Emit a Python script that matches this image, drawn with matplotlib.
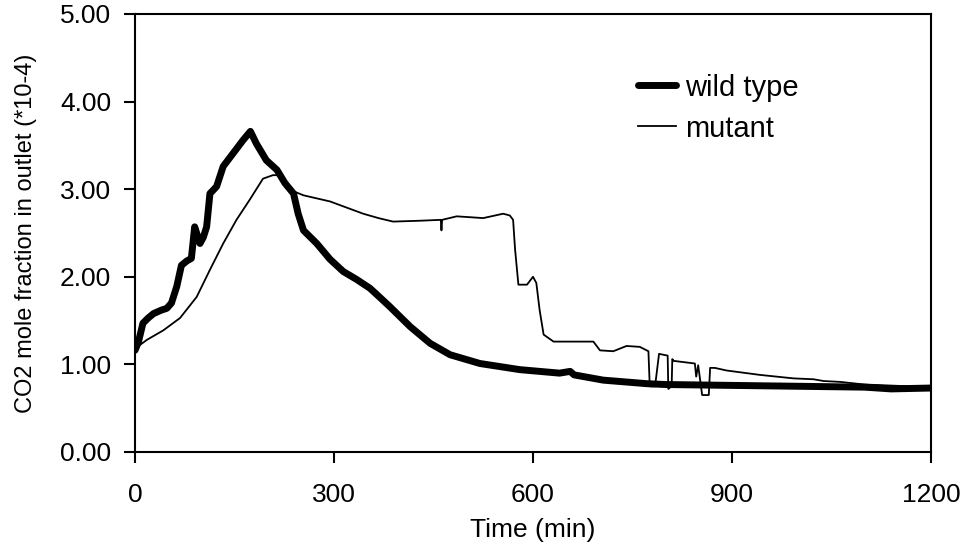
import matplotlib
matplotlib.use("Agg")
import matplotlib.pyplot as plt

plt.rcParams['font.family'] = ['Liberation Sans', 'DejaVu Sans']

# Time axis (min) and CO2 mole fraction (*10-4)
wild_t = [0, 5, 12, 20, 28, 40, 48, 55, 63, 70, 78, 85, 90, 95, 98, 103, 108,
          113, 123, 133, 148, 163, 174, 183, 198, 214, 226, 239, 246, 254,
          274, 294, 314, 334, 354, 367, 384, 415, 445, 475, 520, 580, 640,
          656, 662, 706, 771, 800, 900, 1000, 1100, 1140, 1200]
wild_y = [1.16, 1.25, 1.47, 1.53, 1.58, 1.62, 1.64, 1.70, 1.89, 2.13, 2.18,
          2.21, 2.57, 2.45, 2.38, 2.45, 2.57, 2.95, 3.03, 3.26, 3.41, 3.56,
          3.66, 3.52, 3.33, 3.22, 3.07, 2.95, 2.72, 2.53, 2.38, 2.20, 2.06,
          1.97, 1.87, 1.78, 1.66, 1.43, 1.24, 1.11, 1.01, 0.94, 0.90, 0.92,
          0.88, 0.82, 0.78, 0.77, 0.76, 0.75, 0.74, 0.72, 0.73]

mutant_t = [0, 18, 43, 68, 93, 113, 133, 153, 173, 193, 208, 218, 228, 254,
            294, 344, 367, 389, 430, 461, 462, 463, 485, 525, 555, 565, 570,
            573, 578, 591, 600, 605, 610, 616, 631, 691, 701, 721, 741, 761,
            774, 776, 784, 790, 803, 804, 809, 810, 812, 844, 846, 849, 855,
            865, 867, 874, 892, 912, 942, 993, 1023, 1038, 1063, 1100, 1200]
mutant_y = [1.18, 1.28, 1.39, 1.53, 1.77, 2.08, 2.38, 2.65, 2.88, 3.12, 3.16,
            3.16, 3.01, 2.93, 2.86, 2.72, 2.67, 2.63, 2.64, 2.65, 2.53, 2.65,
            2.69, 2.67, 2.72, 2.70, 2.65, 2.31, 1.91, 1.91, 2.00, 1.93, 1.62,
            1.34, 1.26, 1.26, 1.16, 1.15, 1.21, 1.20, 1.15, 0.75, 0.75, 1.12,
            1.10, 0.72, 0.75, 1.06, 1.04, 1.01, 0.86, 0.99, 0.65, 0.65, 0.96,
            0.96, 0.93, 0.91, 0.88, 0.84, 0.83, 0.81, 0.80, 0.77, 0.74]

x_ticks = [0, 300, 600, 900, 1200]
y_ticks = [0, 1, 2, 3, 4, 5]

fig = plt.figure(figsize=(9.69, 5.46), dpi=100)
ax = fig.add_axes([0.1393, 0.1722, 0.8215, 0.8022])

ax.plot(wild_t, wild_y, color='black', lw=5, solid_capstyle='round',
        solid_joinstyle='round', label='wild type')
ax.plot(mutant_t, mutant_y, color='black', lw=1.3, label='mutant')

ax.set_xlim(0, 1200)
ax.set_ylim(0, 5)
ax.set_xticks(x_ticks)
ax.set_yticks(y_ticks)
ax.set_yticklabels([f"{v:.2f}" for v in y_ticks])
ax.tick_params(direction='out', length=8, width=1.5, labelsize=19)
ax.tick_params(axis='x', pad=14)
ax.tick_params(axis='y', pad=9)
for s in ax.spines.values():
    s.set_linewidth(1.5)

ax.set_xlabel('Time (min)', fontsize=19, labelpad=8)
ax.set_ylabel('CO2 mole fraction in outlet (*10-4)', fontsize=17, labelpad=17)

ax.legend(loc='upper left', bbox_to_anchor=(0.632, 0.864), frameon=False,
          fontsize=21, handlelength=1.3, handletextpad=0.3, labelspacing=0.45,
          borderaxespad=0, borderpad=0)

fig.savefig('out.png', dpi=100)
